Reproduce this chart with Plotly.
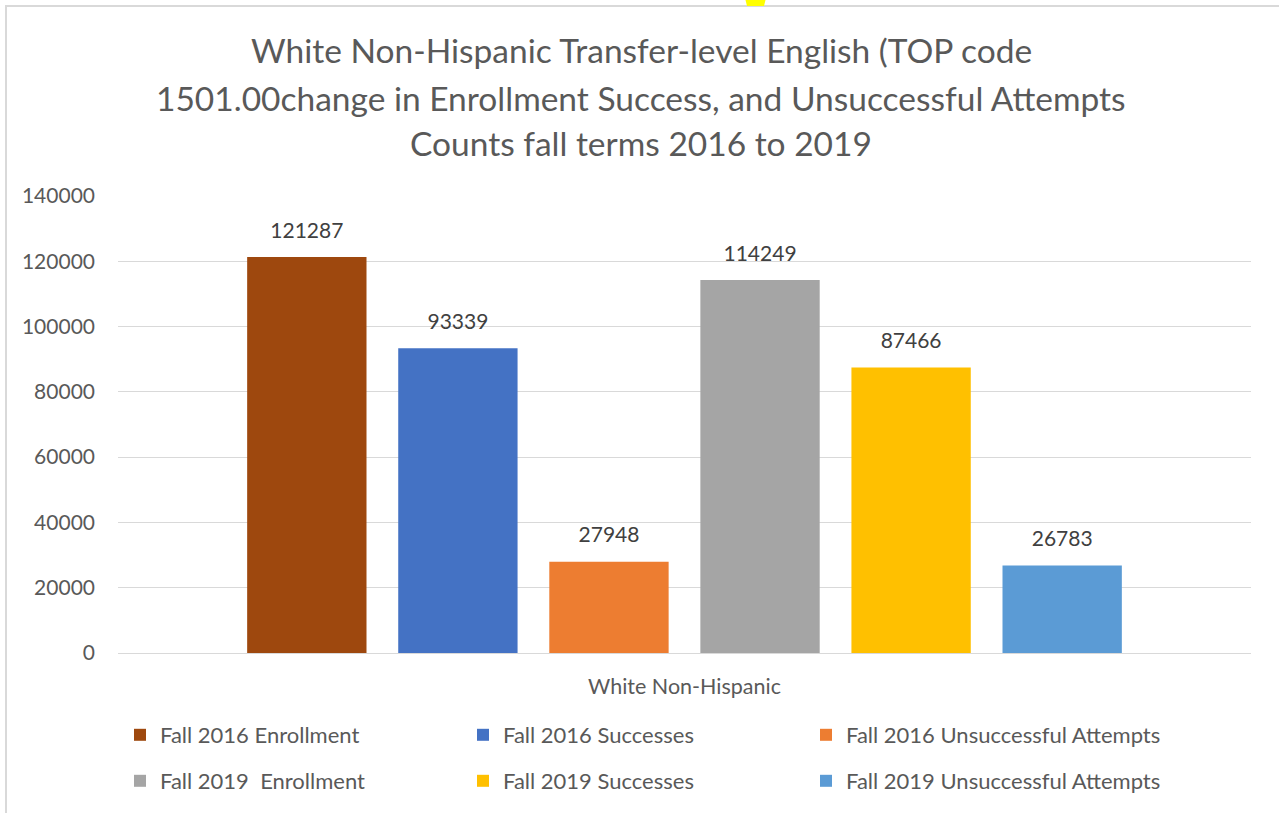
import plotly.graph_objects as go

category = ["White Non-Hispanic"]
series_names = [
    "Fall 2016 Enrollment",
    "Fall 2016 Successes",
    "Fall 2016 Unsuccessful Attempts",
    "Fall 2019  Enrollment",
    "Fall 2019 Successes",
    "Fall 2019 Unsuccessful Attempts",
]
series_values = [121287, 93339, 27948, 114249, 87466, 26783]
series_colors = ["#9E480E", "#4472C4", "#ED7D31", "#A5A5A5", "#FFC000", "#5B9BD5"]
title_lines = [
    "White Non-Hispanic Transfer-level English (TOP code",
    "1501.00change in Enrollment Success, and Unsuccessful Attempts",
    "Counts fall terms 2016 to 2019",
]
y_ticks = [0, 20000, 40000, 60000, 80000, 100000, 120000, 140000]

W, H = 1279, 813
L, R, T, B = 118, 1251, 196, 653
PW, PH = R - L, B - T

def px(x):
    return (x - L) / PW

def py(y):
    return (B - y) / PH

FONT = "Lato"
LEG_COL_TEXT_X = [157, 500, 843]
LEG_ROW_Y = [735, 781]

fig = go.Figure()
legend_layouts = {}
for i, (n, v, c) in enumerate(zip(series_names, series_values, series_colors)):
    lname = "legend" if i == 0 else f"legend{i + 1}"
    fig.add_trace(go.Bar(
        x=category, y=[v], name=n, marker=dict(color=c, line=dict(width=0)),
        texttemplate="<span style='font-size:21px'>%{y}</span><br>&nbsp;",
        textposition="outside", cliponaxis=False,
        textfont=dict(family=FONT, size=11, color="#404040"),
        legend=lname,
    ))
    col, row = i % 3, i // 3
    legend_layouts[lname] = dict(
        orientation="v", xref="container", yref="container",
        xanchor="left", yanchor="middle",
        x=(LEG_COL_TEXT_X[col] - 37) / W, y=1 - LEG_ROW_Y[row] / H,
        font=dict(family=FONT, size=22, color="#595959"),
        bgcolor="rgba(0,0,0,0)", itemwidth=30, borderwidth=0,
    )

fig.update_layout(
    width=W, height=H,
    margin=dict(l=L, r=W - R, t=T, b=H - B, autoexpand=False),
    paper_bgcolor="white", plot_bgcolor="white",
    barmode="group", bargap=0.2, bargroupgap=0.21,
    showlegend=True,
    xaxis=dict(showgrid=False, showline=False, ticks="", ticklabelstandoff=18,
               tickfont=dict(family=FONT, size=21.5, color="#595959")),
    yaxis=dict(range=[0, 140000], tickvals=y_ticks, tickformat="d",
               showgrid=True, gridcolor="#D9D9D9", gridwidth=1.3,
               zeroline=True, zerolinecolor="#D9D9D9", zerolinewidth=1.3,
               showline=False, ticks="", ticklabelstandoff=22,
               tickfont=dict(family=FONT, size=21, color="#595959")),
    **legend_layouts,
)

title_y = [50, 98, 143]
for line, ty in zip(title_lines, title_y):
    fig.add_annotation(text=line, xref="paper", yref="paper", x=px(641), y=py(ty),
                       showarrow=False, xanchor="center", yanchor="middle",
                       font=dict(family=FONT, size=33.5, color="#595959"))

fig.add_shape(type="rect", xref="paper", yref="paper",
              x0=px(6), x1=px(1290), y0=py(6), y1=py(830),
              line=dict(color="#D9D9D9", width=2), fillcolor="rgba(0,0,0,0)", layer="below")
fig.add_shape(type="path", xref="paper", yref="paper",
              path=f"M {px(745)} {py(-2)} L {px(766)} {py(-2)} L {px(764)} {py(6)} L {px(747)} {py(6)} Z",
              line=dict(width=0), fillcolor="#FFFF00")

fig.write_html("out.html", config={"displayModeBar": False},
               post_script="document.body.style.margin='0';document.body.style.padding='0';")
